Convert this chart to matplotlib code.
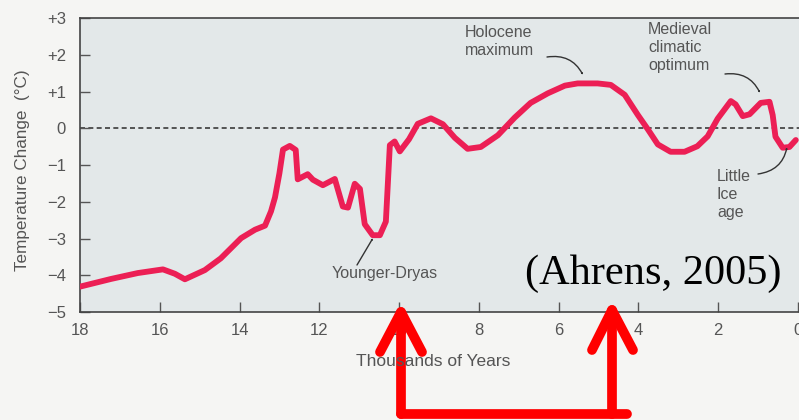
import matplotlib
matplotlib.use("Agg")
import matplotlib.pyplot as plt
from matplotlib.lines import Line2D

# ---- data ----
years = [18.0, 17.22, 16.55, 15.92, 15.62, 15.37, 14.87, 14.47, 13.96, 13.61,
         13.36, 13.21, 13.11, 13.0, 12.91, 12.74, 12.59, 12.54, 12.29, 12.16,
         11.91, 11.61, 11.41, 11.28, 11.11, 10.98, 10.86, 10.66, 10.48, 10.33,
         10.23, 10.11, 9.98, 9.75, 9.53, 9.20, 8.90, 8.60, 8.28, 7.95,
         7.52, 7.10, 6.70, 6.27, 5.84, 5.52, 5.02, 4.69, 4.34, 4.01,
         3.76, 3.51, 3.19, 2.84, 2.52, 2.26, 2.01, 1.68, 1.56, 1.38,
         1.21, 0.93, 0.71, 0.63, 0.56, 0.38, 0.21, 0.05]
temps = [-4.31, -4.10, -3.94, -3.84, -3.96, -4.11, -3.86, -3.54, -2.99, -2.76,
         -2.65, -2.26, -1.88, -1.23, -0.58, -0.48, -0.59, -1.39, -1.25, -1.40,
         -1.55, -1.38, -2.13, -2.16, -1.51, -1.65, -2.61, -2.91, -2.91, -2.54,
         -0.46, -0.36, -0.63, -0.30, 0.12, 0.27, 0.11, -0.26, -0.56, -0.51,
         -0.19, 0.29, 0.69, 0.95, 1.16, 1.22, 1.22, 1.18, 0.91, 0.36,
         -0.03, -0.44, -0.64, -0.64, -0.49, -0.22, 0.26, 0.74, 0.65, 0.33,
         0.38, 0.69, 0.72, 0.36, -0.23, -0.53, -0.51, -0.32]

xticks = [18, 16, 14, 12, 10, 8, 6, 4, 2, 0]
xticklabels = ["18", "16", "14", "12", "10", "8", "6", "4", "2", "0"]
yticks = [3, 2, 1, 0, -1, -2, -3, -4, -5]
yticklabels = ["+3", "+2", "+1", "0", "\u22121", "\u22122", "\u22123", "\u22124", "\u22125"]

annotations = ["Holocene\nmaximum", "Medieval\nclimatic\noptimum", "Little\nIce\nage", "Younger-Dryas"]
citation = "(Ahrens, 2005)"

W, H = 799, 420
plt.rcParams['font.family'] = ['Liberation Sans', 'DejaVu Sans']
fig = plt.figure(figsize=(W / 100, H / 100), dpi=100, facecolor='#f5f5f3')


def fp(x, y):
    return (x / W, 1 - y / H)


ax = fig.add_axes([80 / W, 1 - 312 / H, 1 - 80 / W, 294 / H])
ax.set_facecolor('#e3e8e9')
ax.set_xlim(18, -0.03)
ax.set_ylim(-5, 3)

ax.axhline(0, color='#3a3a3a', lw=1.2, dashes=(3, 2), zorder=1)
ax.plot(years, temps, color='#ec1f55', lw=4.2, solid_capstyle='round',
        solid_joinstyle='round', zorder=3)

ax.set_xticks(xticks)
ax.set_xticklabels(xticklabels)
ax.set_yticks(yticks)
ax.set_yticklabels(yticklabels)
ax.tick_params(direction='in', length=7, width=1, color='#555555',
               labelcolor='#555555', labelsize=12)
ax.tick_params(axis='x', pad=8)
ax.tick_params(axis='y', pad=10)
for s in ['left', 'bottom', 'top']:
    ax.spines[s].set_color('#444444')
    ax.spines[s].set_linewidth(1.2)
ax.spines['right'].set_visible(False)

fig.text(*fp(433, 362), "Thousands of Years", ha='center', va='center',
         fontsize=12.5, color='#555555')
fig.text(*fp(23, 170), "Temperature Change  (\u00b0C)", rotation=90,
         ha='center', va='center', fontsize=12.3, color='#555555')

tc = '#555555'
fig.text(*fp(465, 25), annotations[0], ha='left', va='top', fontsize=11.5,
         color=tc, linespacing=1.25)
fig.text(*fp(648, 22), annotations[1], ha='left', va='top', fontsize=11.5,
         color=tc, linespacing=1.25)
fig.text(*fp(717, 169), annotations[2], ha='left', va='top', fontsize=11.5,
         color=tc, linespacing=1.25)
fig.text(*fp(385, 278), annotations[3], ha='center', va='baseline',
         fontsize=11.5, color=tc)

aprops = dict(arrowstyle='-|>,head_length=0.5,head_width=0.22', color='#333333',
              lw=1.0, shrinkA=0, shrinkB=0)
fig.add_artist(matplotlib.patches.FancyArrowPatch(
    fp(547, 57), fp(583, 75), transform=fig.transFigure,
    connectionstyle='arc3,rad=-0.35', **aprops))
fig.add_artist(matplotlib.patches.FancyArrowPatch(
    fp(725, 74), fp(760, 93), transform=fig.transFigure,
    connectionstyle='arc3,rad=-0.35', **aprops))
fig.add_artist(matplotlib.patches.FancyArrowPatch(
    fp(758, 174), fp(787, 147), transform=fig.transFigure,
    connectionstyle='arc3,rad=0.35', **aprops))
fig.add_artist(matplotlib.patches.FancyArrowPatch(
    fp(357, 265), fp(373, 238), transform=fig.transFigure,
    connectionstyle='arc3,rad=0', **aprops))

fig.text(*fp(525, 284), citation, ha='left', va='baseline', fontsize=30.5,
         family='Liberation Serif', color='black')

# red bracket with two upward arrows
red = '#ff0000'
lw_r = 7.0


def rline(xs, ys):
    pts = [fp(x, y) for x, y in zip(xs, ys)]
    fig.add_artist(Line2D([p[0] for p in pts], [p[1] for p in pts],
                          transform=fig.transFigure, color=red, lw=lw_r,
                          solid_capstyle='round', solid_joinstyle='round'))


rline([401, 401], [312, 414])
rline([401, 627], [414, 414])
rline([612, 612], [310, 414])
rline([380, 401, 422], [352, 312, 352])
rline([592, 612, 633], [350, 310, 350])

fig.savefig('out.png', dpi=100, facecolor=fig.get_facecolor())
